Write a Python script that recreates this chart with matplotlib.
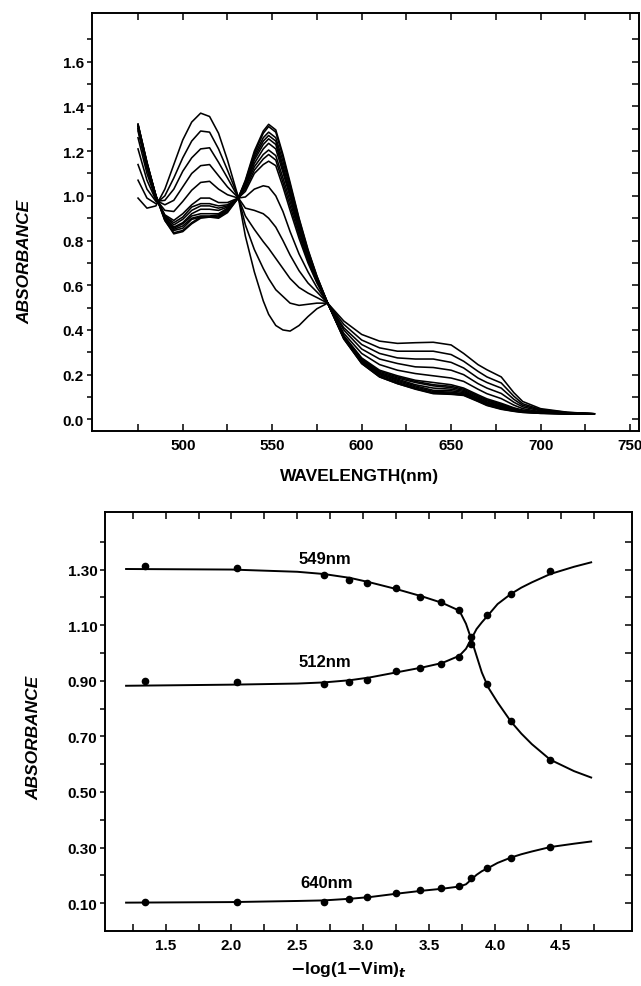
import matplotlib
matplotlib.use('Agg')
import matplotlib.pyplot as plt
from matplotlib.ticker import FixedLocator, FormatStrFormatter

## Fonts
plt.rcParams['font.family'] = ['Liberation Sans', 'DejaVu Sans']
plt.rcParams['font.weight'] = 'bold'

## Data for the spectra (top panel)
wavelength = [475, 480, 485, 490, 495, 500, 505, 510, 515, 520, 525, 531, 535, 540, 545,
              548, 552, 556, 560, 565, 570, 575, 581, 590, 600, 610, 620, 630, 640, 650, 657,
              665, 670, 678, 685, 690, 700, 715, 730]

spec00 = [0.99, 0.945, 0.955, 1.03, 1.14, 1.25, 1.33, 1.37, 1.355, 1.28, 1.16, 0.995, 0.82, 0.66, 0.53,
          0.47, 0.42, 0.40, 0.395, 0.42, 0.46, 0.495, 0.52, 0.44, 0.38, 0.35, 0.34, 0.343, 0.345, 0.333, 0.295,
          0.245, 0.222, 0.19, 0.12, 0.08, 0.048, 0.032, 0.025]
spec01 = [1.07, 0.99, 0.965, 1.00, 1.08, 1.17, 1.245, 1.29, 1.285, 1.21, 1.115, 0.995, 0.87, 0.76, 0.675,
          0.63, 0.58, 0.55, 0.52, 0.51, 0.515, 0.52, 0.52, 0.425, 0.355, 0.32, 0.305, 0.305, 0.305, 0.29, 0.26,
          0.215, 0.19, 0.163, 0.104, 0.07, 0.044, 0.031, 0.025]
spec02 = [1.14, 1.03, 0.975, 0.98, 1.03, 1.11, 1.17, 1.21, 1.215, 1.15, 1.08, 0.993, 0.91, 0.85, 0.795,
          0.765, 0.72, 0.675, 0.63, 0.59, 0.565, 0.545, 0.52, 0.41, 0.335, 0.295, 0.275, 0.27, 0.27, 0.255, 0.23,
          0.185, 0.165, 0.14, 0.09, 0.063, 0.041, 0.03, 0.025]
spec03 = [1.21, 1.07, 0.98, 0.96, 0.98, 1.04, 1.10, 1.135, 1.14, 1.09, 1.04, 0.992, 0.945, 0.935, 0.92,
          0.90, 0.86, 0.80, 0.735, 0.665, 0.61, 0.57, 0.52, 0.40, 0.315, 0.27, 0.25, 0.235, 0.232, 0.22, 0.20,
          0.16, 0.14, 0.116, 0.077, 0.056, 0.038, 0.029, 0.025]
spec04 = [1.26, 1.10, 0.985, 0.935, 0.93, 0.975, 1.025, 1.06, 1.065, 1.03, 1.005, 0.99, 0.995, 1.03, 1.045,
          1.04, 1.00, 0.93, 0.84, 0.74, 0.66, 0.59, 0.52, 0.385, 0.295, 0.245, 0.22, 0.205, 0.195, 0.185, 0.17,
          0.135, 0.115, 0.093, 0.064, 0.048, 0.034, 0.028, 0.025]
spec05 = [1.29, 1.12, 0.99, 0.915, 0.89, 0.92, 0.96, 0.99, 0.99, 0.97, 0.97, 0.99, 1.02, 1.10, 1.14,
          1.155, 1.135, 1.04, 0.935, 0.81, 0.70, 0.61, 0.52, 0.375, 0.275, 0.22, 0.195, 0.175, 0.165, 0.155, 0.14,
          0.11, 0.092, 0.072, 0.052, 0.041, 0.031, 0.027, 0.025]
spec06 = [1.30, 1.13, 0.99, 0.91, 0.88, 0.905, 0.95, 0.965, 0.965, 0.955, 0.96, 0.99, 1.03, 1.115, 1.165,
          1.185, 1.16, 1.06, 0.955, 0.825, 0.71, 0.615, 0.52, 0.37, 0.27, 0.215, 0.19, 0.17, 0.155, 0.148, 0.135,
          0.105, 0.087, 0.068, 0.049, 0.04, 0.03, 0.026, 0.025]
spec07 = [1.30, 1.135, 0.995, 0.91, 0.87, 0.895, 0.935, 0.955, 0.955, 0.945, 0.955, 0.99, 1.04, 1.13, 1.185,
          1.205, 1.18, 1.08, 0.975, 0.84, 0.72, 0.62, 0.52, 0.37, 0.27, 0.21, 0.185, 0.165, 0.15, 0.142, 0.13,
          0.10, 0.083, 0.064, 0.047, 0.039, 0.03, 0.026, 0.025]
spec08 = [1.31, 1.14, 1.00, 0.905, 0.86, 0.88, 0.92, 0.94, 0.94, 0.935, 0.95, 0.99, 1.045, 1.145, 1.21,
          1.235, 1.21, 1.105, 0.995, 0.85, 0.73, 0.625, 0.52, 0.37, 0.265, 0.205, 0.18, 0.155, 0.14, 0.135, 0.125,
          0.095, 0.078, 0.06, 0.045, 0.037, 0.029, 0.026, 0.025]
spec09 = [1.31, 1.14, 1.00, 0.90, 0.855, 0.875, 0.91, 0.92, 0.92, 0.92, 0.945, 0.99, 1.05, 1.16, 1.23,
          1.255, 1.23, 1.12, 1.005, 0.86, 0.735, 0.63, 0.52, 0.365, 0.26, 0.205, 0.175, 0.15, 0.13, 0.128, 0.12,
          0.092, 0.074, 0.056, 0.043, 0.036, 0.029, 0.025, 0.025]
spec10 = [1.315, 1.145, 1.00, 0.90, 0.85, 0.865, 0.90, 0.91, 0.91, 0.915, 0.94, 0.99, 1.055, 1.17, 1.245,
          1.27, 1.245, 1.135, 1.02, 0.87, 0.74, 0.63, 0.52, 0.365, 0.26, 0.20, 0.17, 0.145, 0.125, 0.122, 0.115,
          0.09, 0.071, 0.053, 0.041, 0.035, 0.028, 0.025, 0.024]
spec11 = [1.32, 1.145, 1.00, 0.895, 0.845, 0.855, 0.895, 0.905, 0.905, 0.91, 0.935, 0.99, 1.06, 1.18, 1.26,
          1.285, 1.26, 1.155, 1.035, 0.88, 0.75, 0.635, 0.52, 0.365, 0.255, 0.195, 0.165, 0.14, 0.12, 0.118, 0.112,
          0.086, 0.068, 0.05, 0.039, 0.033, 0.028, 0.025, 0.024]
spec12 = [1.32, 1.15, 1.00, 0.89, 0.835, 0.845, 0.88, 0.905, 0.905, 0.905, 0.93, 0.99, 1.065, 1.19, 1.28,
          1.31, 1.285, 1.175, 1.05, 0.895, 0.755, 0.64, 0.52, 0.36, 0.25, 0.19, 0.16, 0.137, 0.117, 0.114, 0.109,
          0.082, 0.064, 0.047, 0.037, 0.032, 0.027, 0.025, 0.024]
spec13 = [1.32, 1.15, 1.00, 0.89, 0.83, 0.84, 0.875, 0.90, 0.905, 0.90, 0.925, 0.99, 1.07, 1.20, 1.29,
          1.32, 1.295, 1.185, 1.06, 0.90, 0.76, 0.64, 0.52, 0.36, 0.25, 0.19, 0.16, 0.135, 0.115, 0.112, 0.107,
          0.08, 0.062, 0.045, 0.036, 0.031, 0.027, 0.025, 0.024]

spectra = [spec00, spec01, spec02, spec03, spec04, spec05, spec06,
           spec07, spec08, spec09, spec10, spec11, spec12, spec13]

## Data for the absorbance vs -log(1-Vim) plot (bottom panel)
log_x = [1.34, 2.04, 2.70, 2.89, 3.03, 3.25, 3.43, 3.59, 3.73, 3.82, 3.94, 4.12, 4.42]
abs549 = [1.312, 1.305, 1.281, 1.264, 1.252, 1.233, 1.200, 1.185, 1.155, 1.056, 0.888, 0.754, 0.616]
abs512 = [0.898, 0.894, 0.888, 0.894, 0.904, 0.936, 0.945, 0.960, 0.984, 1.032, 1.137, 1.212, 1.293]
abs640 = [0.106, 0.104, 0.106, 0.115, 0.122, 0.136, 0.146, 0.153, 0.161, 0.191, 0.227, 0.264, 0.302]

fit_x = [1.2, 2.0, 2.5, 2.7, 2.9, 3.05, 3.25, 3.45, 3.6, 3.73, 3.78, 3.82, 3.86, 3.9, 3.95,
         4.02, 4.12, 4.2, 4.28, 4.42, 4.6, 4.73]
fit549 = [1.302, 1.30, 1.292, 1.284, 1.27, 1.254, 1.23, 1.203, 1.18, 1.152, 1.105, 1.05, 0.99, 0.93, 0.875,
          0.822, 0.754, 0.71, 0.672, 0.616, 0.575, 0.552]
fit512 = [0.882, 0.886, 0.89, 0.894, 0.902, 0.912, 0.93, 0.948, 0.964, 0.99, 1.015, 1.05, 1.086, 1.11, 1.137,
          1.176, 1.212, 1.235, 1.254, 1.284, 1.31, 1.326]
fit640 = [0.102, 0.104, 0.108, 0.11, 0.116, 0.122, 0.134, 0.145, 0.152, 0.16, 0.168, 0.185, 0.202, 0.215, 0.227,
          0.245, 0.264, 0.276, 0.286, 0.302, 0.314, 0.322]

## Tick positions
TOP_X_MAJOR = [500, 550, 600, 650, 700, 750]
TOP_X_MINOR = [475, 525, 575, 625, 675, 725]
TOP_Y_MAJOR = [0.0, 0.2, 0.4, 0.6, 0.8, 1.0, 1.2, 1.4, 1.6]
TOP_Y_MINOR = [0.1, 0.3, 0.5, 0.7, 0.9, 1.1, 1.3, 1.5, 1.7]
BOT_X_MAJOR = [1.5, 2.0, 2.5, 3.0, 3.5, 4.0, 4.5]
BOT_X_MINOR = [1.25, 1.75, 2.25, 2.75, 3.25, 3.75, 4.25, 4.75]
BOT_Y_MAJOR = [0.1, 0.3, 0.5, 0.7, 0.9, 1.1, 1.3]
BOT_Y_MINOR = [0.2, 0.4, 0.6, 0.8, 1.0, 1.2, 1.4]

## Constants
FIG_W = 641
FIG_H = 987
TICK_SIZE = 11
LABEL_SIZE = 12.5
SPINE_LW = 1.2
LINE_COLOR = 'black'


def style_axes(ax, xmaj, xmin, ymaj, ymin, yfmt, xfmt):
    ax.xaxis.set_major_locator(FixedLocator(xmaj))
    ax.xaxis.set_minor_locator(FixedLocator(xmin))
    ax.yaxis.set_major_locator(FixedLocator(ymaj))
    ax.yaxis.set_minor_locator(FixedLocator(ymin))
    ax.yaxis.set_major_formatter(FormatStrFormatter(yfmt))
    ax.xaxis.set_major_formatter(FormatStrFormatter(xfmt))
    ax.tick_params(axis='x', which='both', direction='in', top=True, bottom=True,
                   length=5, width=1.1, labelsize=TICK_SIZE, pad=5)
    ax.tick_params(axis='y', which='both', direction='out', left=True, right=False,
                   length=3.5, width=1.1, labelsize=TICK_SIZE, pad=2)
    for s in ax.spines.values():
        s.set_linewidth(SPINE_LW)

    ## right side ticks point inwards
    rax = ax.twinx()
    rax.set_ylim(ax.get_ylim())
    rax.yaxis.set_major_locator(FixedLocator(ymaj))
    rax.yaxis.set_minor_locator(FixedLocator(ymin))
    rax.tick_params(axis='y', which='both', direction='in', length=5, width=1.1,
                    labelright=False)
    for s in rax.spines.values():
        s.set_linewidth(SPINE_LW)


fig = plt.figure(figsize=(FIG_W / 100, FIG_H / 100), dpi=100)

## Top panel: spectra
ax1 = fig.add_axes([91.5 / FIG_W, 1 - 432 / FIG_H, 547.5 / FIG_W, 418 / FIG_H])
for spec in spectra:
    ax1.plot(wavelength, spec, color=LINE_COLOR, lw=1.15, solid_joinstyle='round')
ax1.set_xlim(449, 755)
ax1.set_ylim(-0.052, 1.818)
style_axes(ax1, TOP_X_MAJOR, TOP_X_MINOR, TOP_Y_MAJOR, TOP_Y_MINOR, '%.1f', '%d')

## Bottom panel: absorbance vs -log(1-Vim)
ax2 = fig.add_axes([105 / FIG_W, 1 - 932 / FIG_H, 527 / FIG_W, 419 / FIG_H])
ax2.plot(fit_x, fit549, color=LINE_COLOR, lw=1.4, solid_joinstyle='round')
ax2.plot(fit_x, fit512, color=LINE_COLOR, lw=1.4, solid_joinstyle='round')
ax2.plot(fit_x, fit640, color=LINE_COLOR, lw=1.4, solid_joinstyle='round')
ax2.plot(log_x, abs549, 'o', color=LINE_COLOR, ms=4.5)
ax2.plot(log_x, abs512, 'o', color=LINE_COLOR, ms=4.5)
ax2.plot(log_x, abs640, 'o', color=LINE_COLOR, ms=4.5)
ax2.set_xlim(1.04, 5.04)
ax2.set_ylim(0.0, 1.507)
style_axes(ax2, BOT_X_MAJOR, BOT_X_MINOR, BOT_Y_MAJOR, BOT_Y_MINOR, '%.2f', '%.1f')

ax2.text(2.71, 1.341, '549nm', ha='center', va='center', fontsize=12)
ax2.text(2.71, 0.969, '512nm', ha='center', va='center', fontsize=12)
ax2.text(2.72, 0.173, '640nm', ha='center', va='center', fontsize=12)

## Axis titles
fig.text(25 / FIG_W, 1 - 262 / FIG_H, 'ABSORBANCE', rotation=90, ha='center', va='center',
         fontsize=LABEL_SIZE, style='italic')
fig.text(34 / FIG_W, 1 - 738 / FIG_H, 'ABSORBANCE', rotation=90, ha='center', va='center',
         fontsize=LABEL_SIZE, style='italic')
fig.text(360 / FIG_W, 1 - 477 / FIG_H, 'WAVELENGTH(nm)', ha='center', va='center',
         fontsize=LABEL_SIZE)
fig.text(348 / FIG_W, 1 - 970 / FIG_H, r'$-$log(1$-$Vim)$_{t}$', ha='center', va='center',
         fontsize=LABEL_SIZE)

fig.savefig('out.png', dpi=100)
